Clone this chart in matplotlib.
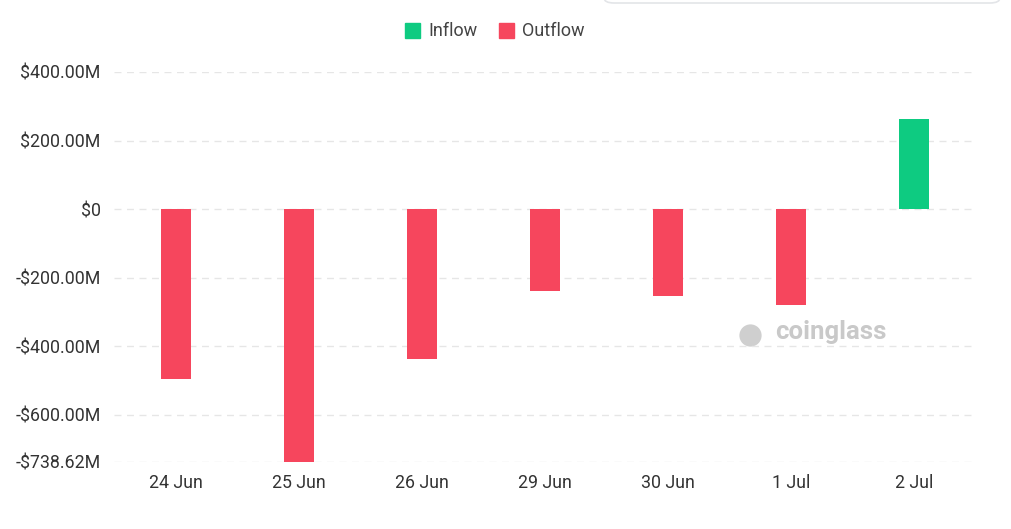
import matplotlib
matplotlib.use("Agg")
import matplotlib.pyplot as plt
from matplotlib.patches import FancyBboxPatch

# daily net flows, millions of USD
dates = ["24 Jun", "25 Jun", "26 Jun", "29 Jun", "30 Jun", "1 Jul", "2 Jul"]
flows = [-496.0, -738.62, -438.0, -239.0, -254.0, -280.0, 263.0]

y_ticks = [400, 200, 0, -200, -400, -600, -738.62]
y_labels = ["$400.00M", "$200.00M", "$0", "-$200.00M", "-$400.00M", "-$600.00M", "-$738.62M"]

GREEN = "#0ecb81"
RED = "#f6465d"

plt.rcParams["font.family"] = ["Roboto", "DejaVu Sans"]

fig = plt.figure(figsize=(10.12, 5.29), dpi=100)
ax = fig.add_axes([114.5 / 1012, 1 - 462 / 529, 861 / 1012, 390 / 529])

colors = [GREEN if v >= 0 else RED for v in flows]
ax.bar(range(len(dates)), flows, width=0.245, color=colors, zorder=3)

ax.set_xlim(-0.5, len(dates) - 0.5)
ax.set_ylim(-738.62, 400)
ax.set_yticks(y_ticks)
ax.set_yticklabels(y_labels)
ax.set_xticks(range(len(dates)))
ax.set_xticklabels(dates)
ax.tick_params(length=0, labelsize=12.8, labelcolor="#333333")
ax.tick_params(axis="y", pad=10)
ax.tick_params(axis="x", pad=9)
for s in ax.spines.values():
    s.set_visible(False)
ax.grid(axis="y", color="#e6e6e6", linestyle=(0, (5, 4)), linewidth=1, zorder=0)

# watermark
ax.text(0.767, 0.333, "coinglass", transform=ax.transAxes, fontsize=18.5,
        fontweight="bold", color="#c9c9c9", ha="left", va="center", zorder=1)
ax.plot([0.738], [0.325], transform=ax.transAxes, marker="o", markersize=15,
        color="#cfcfcf", zorder=1)

# legend
fig.patches.append(plt.Rectangle((405 / 1012, 1 - 38 / 529), 15 / 1012, 15 / 529,
                                 transform=fig.transFigure, color=GREEN))
fig.text(428 / 1012, 1 - 31 / 529, "Inflow", fontsize=13, color="#444444", va="center")
fig.patches.append(plt.Rectangle((499 / 1012, 1 - 38 / 529), 15 / 1012, 15 / 529,
                                 transform=fig.transFigure, color=RED))
fig.text(522 / 1012, 1 - 31 / 529, "Outflow", fontsize=13, color="#444444", va="center")

# partial search box at the top edge
fig.patches.append(FancyBboxPatch((604 / 1012, 1 - 3 / 529), 396 / 1012, 20 / 529,
                                  boxstyle="round,pad=0,rounding_size=0.01",
                                  transform=fig.transFigure, facecolor="white",
                                  edgecolor="#e3e5e8", linewidth=1.2))

fig.savefig("out.png", dpi=100)
